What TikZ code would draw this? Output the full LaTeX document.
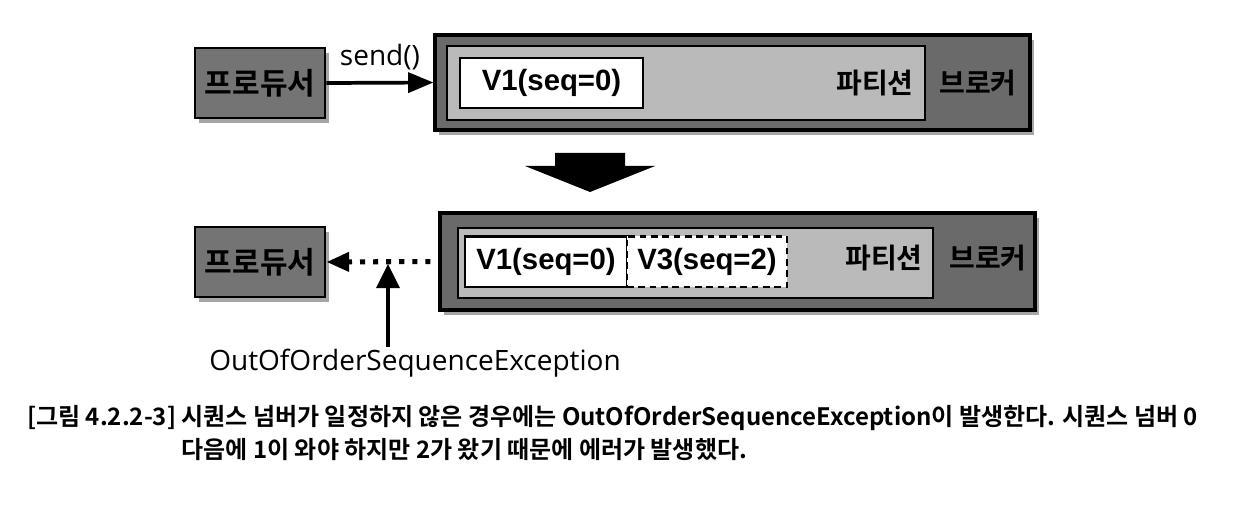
\documentclass[tikz,border=0pt]{standalone}
\usepackage{fontspec}
\setmainfont{Noto Sans CJK KR}[BoldFont={* Bold}]
\newfontfamily\labelfont{Open Sans}
\newfontfamily\recfont{Liberation Sans}
\usetikzlibrary{arrows.meta,shadows,calc}

\definecolor{prodgray}{HTML}{747474}
\definecolor{brokergray}{HTML}{6A6A6A}
\definecolor{partgray}{HTML}{BABABA}

\begin{document}
\begin{tikzpicture}[x=0.75pt,y=-0.75pt,line join=miter,
  boxshadow/.style={drop shadow={shadow xshift=3pt,shadow yshift=-3.5pt,fill=black,opacity=0.35}},
  prodbox/.style={draw,line width=2.2pt,fill=prodgray,inner sep=0pt,minimum width=97.5pt,minimum height=52.5pt,font=\bfseries\fontsize{22.5}{22.5}\selectfont,boxshadow},
  brokerbox/.style={draw,line width=2.4pt,fill=brokergray,inner sep=0pt,boxshadow},
  partbox/.style={draw,line width=2pt,fill=partgray,inner sep=0pt},
  recbox/.style={draw,line width=2pt,fill=white,inner sep=0pt,minimum height=38pt,font=\recfont\bfseries\fontsize{22}{22}\selectfont},
  newrec/.style={recbox,dash pattern=on 5pt off 3.5pt},
  tag/.style={inner sep=0pt,font=\bfseries\fontsize{21}{21}\selectfont},
  plain/.style={inner sep=1pt,font=\labelfont\fontsize{21}{21}\selectfont},
  sendarrow/.style={-{Triangle[length=19pt,width=15pt]},line width=2.8pt},
  errarrow/.style={-{Triangle[length=17pt,width=14pt]},line width=3.8pt,dash pattern=on 3.8pt off 6pt},
  uparrow/.style={-{Triangle[length=18pt,width=17pt]},line width=3pt}]

  \useasboundingbox (0,0) rectangle (1258,510);

  % 1. producer sends V1 to the partition
  \node[prodbox] (prod1) at (260,83) {프로듀서};
  \node[brokerbox,minimum width=446.25pt,minimum height=71.25pt] (brk1) at (732.5,82.5) {};
  \node[partbox,minimum width=358.5pt,minimum height=55.5pt] (part1) at (686,83) {};
  \node[recbox,minimum width=137.25pt,minimum height=37.5pt] (rec1) at (551.5,83) {V1(seq=0)};
  \node[tag] (ptag1) at (875,83) {파티션};
  \node[tag] (btag1) at (978,83) {브로커};
  \draw[sendarrow] (prod1.east) -- (brk1.west) node[plain,midway,above=7pt] (send) {send()};

  % big arrow between the two states
  \fill (555,153) -- (625,153) -- (625,166) -- (655,166) -- (590,192) -- (525,166) -- (555,166) -- cycle;

  % 2. V3 arrives after V1, so the broker answers with an error
  \node[prodbox] (prod2) at (260,262) {프로듀서};
  \node[brokerbox,minimum width=446.25pt,minimum height=72.75pt] (brk2) at (737.5,261.5) {};
  \node[partbox,minimum width=356.25pt,minimum height=52.5pt] (part2) at (695.5,263) {};
  \node[recbox,minimum width=121.5pt] (rec2) at (546,261.5) {V1(seq=0)};
  \node[newrec,minimum width=120pt] (rec3) at (707,261.5) {V3(seq=2)};
  \node[tag] (ptag2) at (884,258) {파티션};
  \node[tag] (btag2) at (988,258) {브로커};
  \draw[errarrow,shorten <=6pt] (brk2.west) -- (prod2.east);
  \node[plain] (exc) at (415,363) {OutOfOrderSequenceException};
  \coordinate (hit) at (388,264);
  \draw[uparrow] (hit |- exc.north) -- (hit);

  % caption
  \node[anchor=base west,inner sep=0pt,font=\bfseries\fontsize{18}{25}\selectfont] (cap) at (27,425)
    {\begin{tabular}[t]{@{}l@{ }l@{}}
      [그림 4.2.2-3] & 시퀀스 넘버가 일정하지 않은 경우에는 OutOfOrderSequenceException이 발생한다. 시퀀스 넘버 0\\
      & 다음에 1이 와야 하지만 2가 왔기 때문에 에러가 발생했다.
    \end{tabular}};

\end{tikzpicture}
\end{document}
